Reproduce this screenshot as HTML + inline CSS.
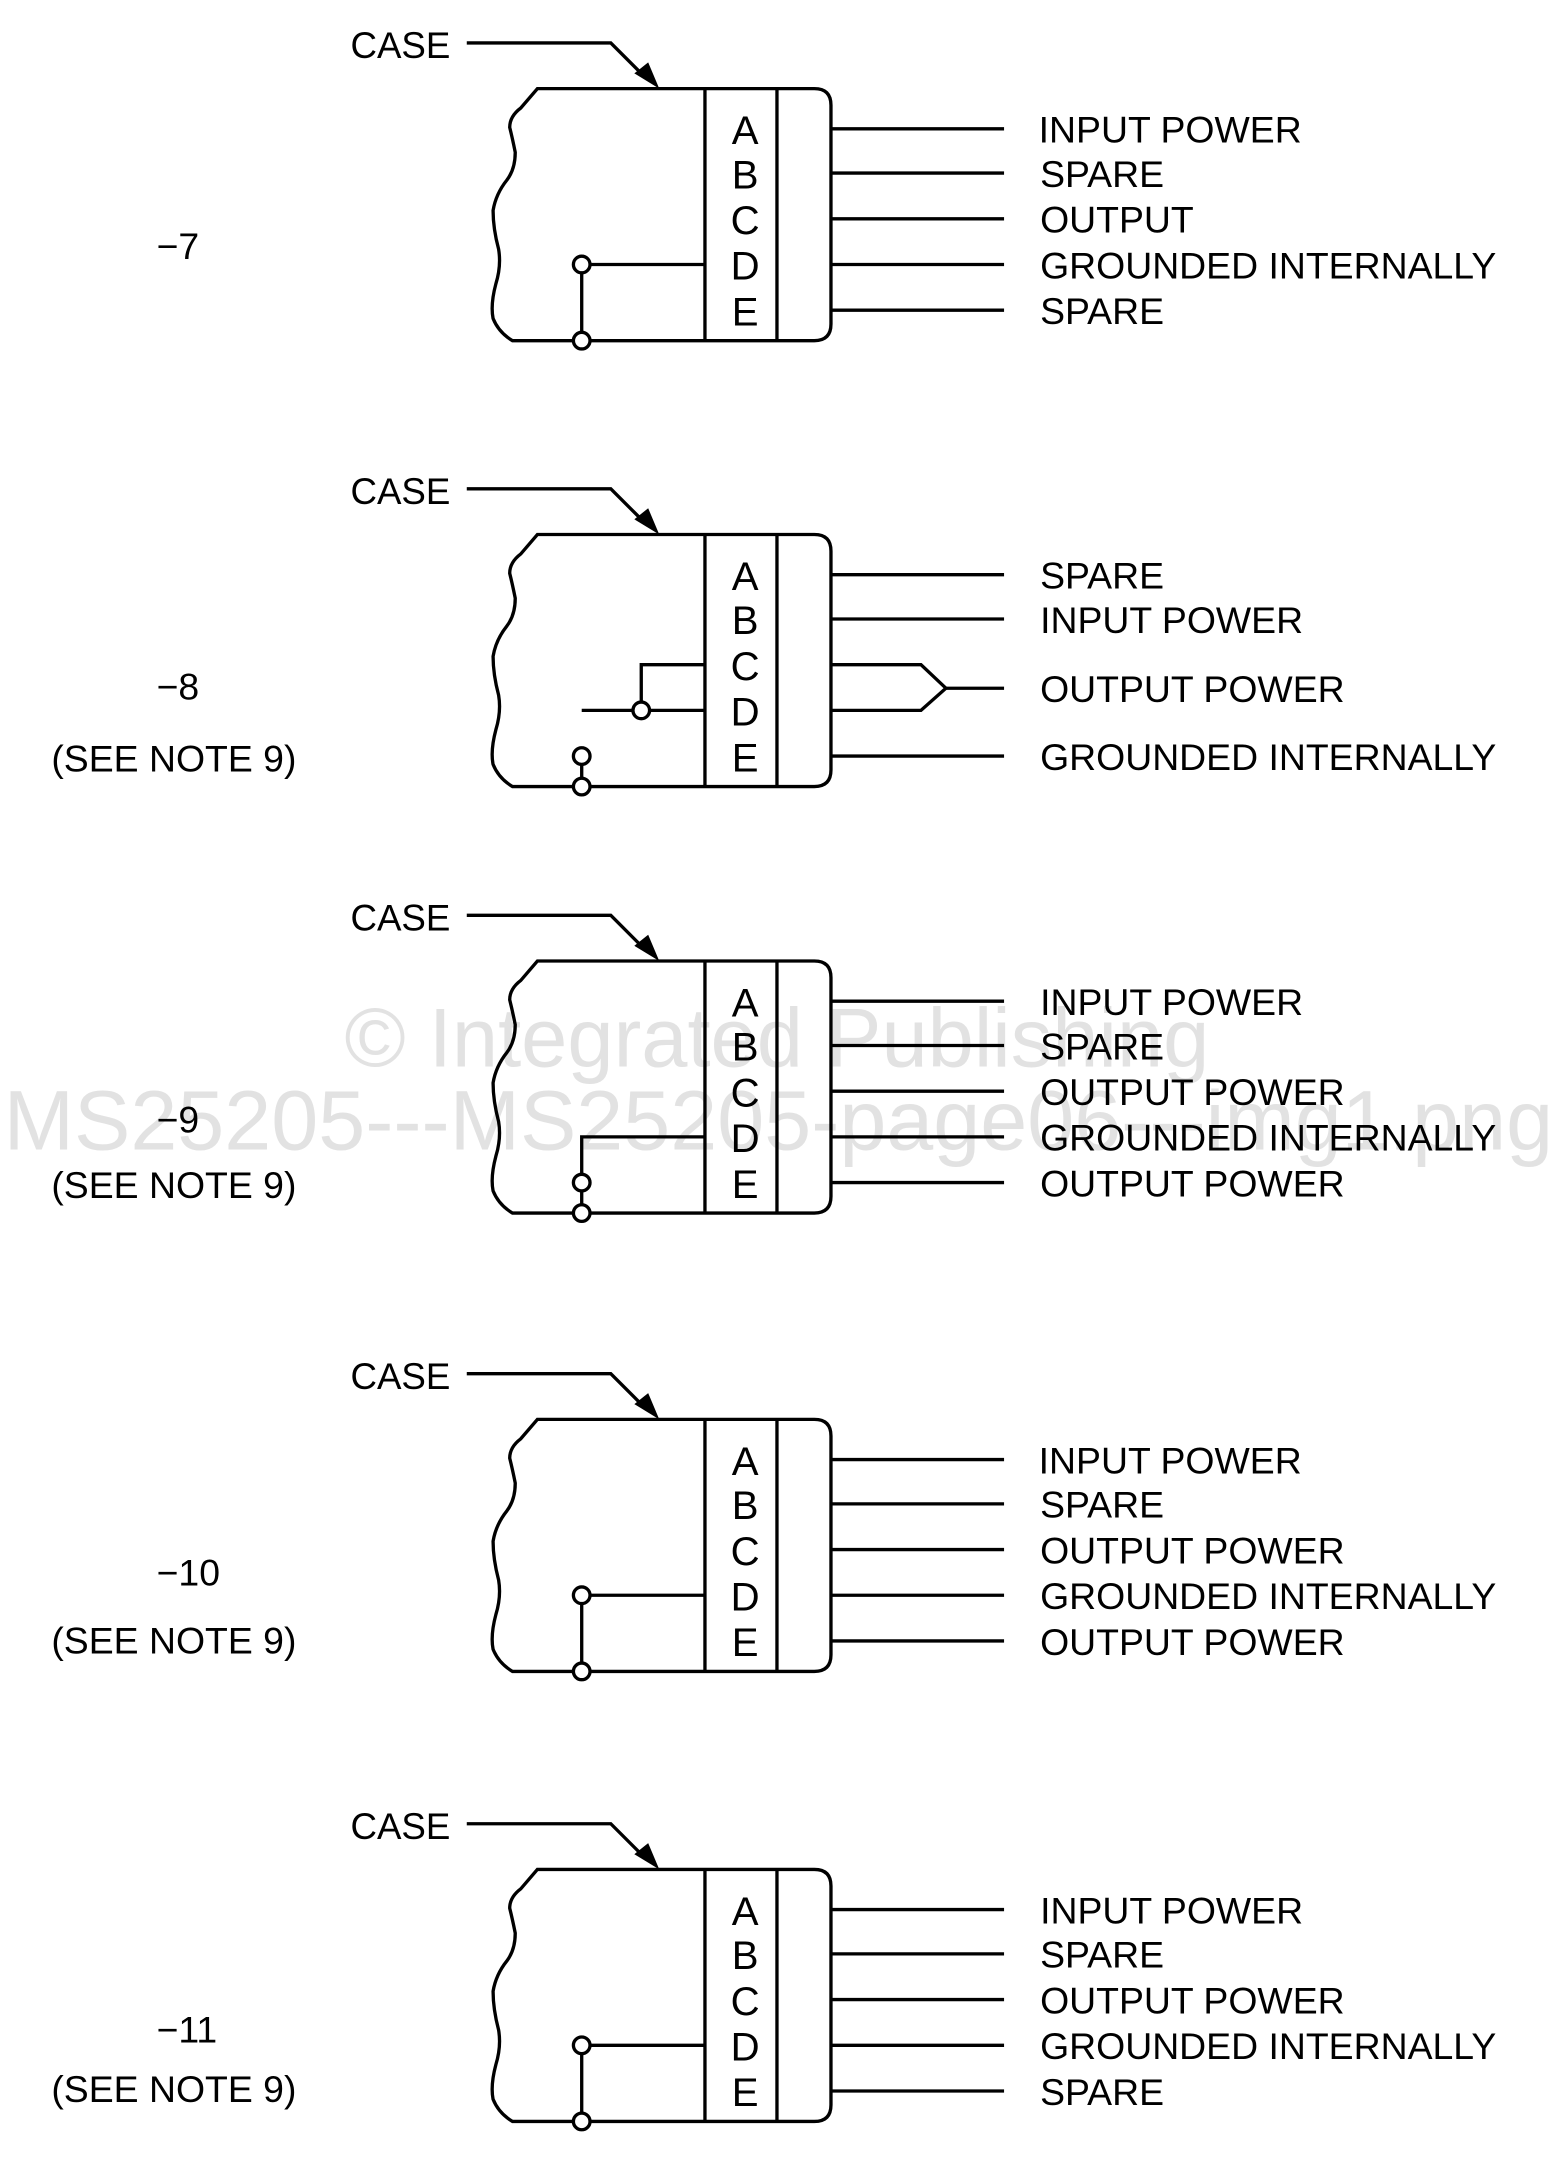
<!DOCTYPE html>
<html><head><meta charset="utf-8"><style>
html,body{margin:0;padding:0;background:#fff;}
svg{display:block;}
text{font-family:"Liberation Sans",Arial,sans-serif;fill:#000;}
</style></head><body>
<svg width="1565" height="2181" viewBox="0 0 1130 1575" xmlns="http://www.w3.org/2000/svg">
<defs>
<g id="box">
  <path d="M337,31 L441,31 L466,56" fill="none" stroke="#000" stroke-width="2.4"/>
  <polygon points="476,64 458,53 468,45" fill="#000"/>
  <path d="M600,76 L600,234 Q600,246 588,246 L370,246 Q360,240 356,230 Q354,220 358,205 Q362,192 360,180 Q356,165 356,152 Q358,140 366,130 Q372,122 372,110 Q370,100 368,92 Q368,84 376,78 L388,64 L588,64 Q600,64 600,76 Z" fill="none" stroke="#000" stroke-width="2.4"/>
  <line x1="509" y1="64" x2="509" y2="246" stroke="#000" stroke-width="2.4"/>
  <line x1="561" y1="64" x2="561" y2="246" stroke="#000" stroke-width="2.4"/>
  <g font-size="29" text-anchor="middle">
    <text x="538" y="104">A</text><text x="538" y="136">B</text><text x="538" y="169">C</text><text x="538" y="202">D</text><text x="538" y="235">E</text>
  </g>
  <text x="253" y="42" font-size="26.5">CASE</text>
</g>
</defs>

<!-- watermark -->
<text x="561" y="770" font-size="60" text-anchor="middle" style="fill:#e2e2e2">© Integrated Publishing</text>
<text x="562" y="830" font-size="61" text-anchor="middle" style="fill:#e2e2e2">MS25205---MS25205-page06---img1.png</text>

<!-- Block 1 -->
<use href="#box"/>
<g stroke="#000" stroke-width="2.4" fill="none">
  <line x1="600" y1="93" x2="725" y2="93"/><line x1="600" y1="125" x2="725" y2="125"/><line x1="600" y1="158" x2="725" y2="158"/><line x1="600" y1="191" x2="725" y2="191"/><line x1="600" y1="224" x2="725" y2="224"/>
  <line x1="426" y1="191" x2="509" y2="191"/><line x1="420" y1="197" x2="420" y2="240"/>
  <circle cx="420" cy="191" r="6" fill="#fff"/><circle cx="420" cy="246" r="6" fill="#fff"/>
</g>
<g font-size="27">
<text x="750" y="103">INPUT POWER</text><text x="751" y="135">SPARE</text><text x="751" y="168">OUTPUT</text><text x="751" y="201">GROUNDED INTERNALLY</text><text x="751" y="234">SPARE</text>
<text x="113" y="187">−7</text>
</g>

<!-- Block 2 -->
<g transform="translate(0,322)">
<use href="#box"/>
<g stroke="#000" stroke-width="2.4" fill="none">
  <line x1="600" y1="93" x2="725" y2="93"/><line x1="600" y1="125" x2="725" y2="125"/>
  <path d="M600,158 L665,158 L683,175 L665,191 L600,191"/><line x1="683" y1="175" x2="725" y2="175"/>
  <line x1="600" y1="224" x2="725" y2="224"/>
  <path d="M509,158 L463,158 L463,186"/><line x1="420" y1="191" x2="457" y2="191"/><line x1="469" y1="191" x2="509" y2="191"/>
  <circle cx="463" cy="191" r="6" fill="#fff"/>
  <line x1="420" y1="230" x2="420" y2="240"/>
  <circle cx="420" cy="224" r="6" fill="#fff"/><circle cx="420" cy="246" r="6" fill="#fff"/>
</g>
<g font-size="27">
<text x="751" y="103">SPARE</text><text x="751" y="135">INPUT POWER</text><text x="751" y="185">OUTPUT POWER</text><text x="751" y="234">GROUNDED INTERNALLY</text>
<text x="113" y="183">−8</text><text x="37" y="235">(SEE NOTE 9)</text>
</g>
</g>

<!-- Block 3 -->
<g transform="translate(0,630)">
<use href="#box"/>
<g stroke="#000" stroke-width="2.4" fill="none">
  <line x1="600" y1="93" x2="725" y2="93"/><line x1="600" y1="125" x2="725" y2="125"/><line x1="600" y1="158" x2="725" y2="158"/><line x1="600" y1="191" x2="725" y2="191"/><line x1="600" y1="224" x2="725" y2="224"/>
  <path d="M509,191 L420,191 L420,218"/><line x1="420" y1="230" x2="420" y2="240"/>
  <circle cx="420" cy="224" r="6" fill="#fff"/><circle cx="420" cy="246" r="6" fill="#fff"/>
</g>
<g font-size="27">
<text x="751" y="103">INPUT POWER</text><text x="751" y="135">SPARE</text><text x="751" y="168">OUTPUT POWER</text><text x="751" y="201">GROUNDED INTERNALLY</text><text x="751" y="234">OUTPUT POWER</text>
<text x="113" y="188">−9</text><text x="37" y="235">(SEE NOTE 9)</text>
</g>
</g>

<!-- Block 4 -->
<g transform="translate(0,961)">
<use href="#box"/>
<g stroke="#000" stroke-width="2.4" fill="none">
  <line x1="600" y1="93" x2="725" y2="93"/><line x1="600" y1="125" x2="725" y2="125"/><line x1="600" y1="158" x2="725" y2="158"/><line x1="600" y1="191" x2="725" y2="191"/><line x1="600" y1="224" x2="725" y2="224"/>
  <line x1="426" y1="191" x2="509" y2="191"/><line x1="420" y1="197" x2="420" y2="240"/>
  <circle cx="420" cy="191" r="6" fill="#fff"/><circle cx="420" cy="246" r="6" fill="#fff"/>
</g>
<g font-size="27">
<text x="750" y="103">INPUT POWER</text><text x="751" y="135">SPARE</text><text x="751" y="168">OUTPUT POWER</text><text x="751" y="201">GROUNDED INTERNALLY</text><text x="751" y="234">OUTPUT POWER</text>
<text x="113" y="184">−10</text><text x="37" y="233">(SEE NOTE 9)</text>
</g>
</g>

<!-- Block 5 -->
<g transform="translate(0,1286)">
<use href="#box"/>
<g stroke="#000" stroke-width="2.4" fill="none">
  <line x1="600" y1="93" x2="725" y2="93"/><line x1="600" y1="125" x2="725" y2="125"/><line x1="600" y1="158" x2="725" y2="158"/><line x1="600" y1="191" x2="725" y2="191"/><line x1="600" y1="224" x2="725" y2="224"/>
  <line x1="426" y1="191" x2="509" y2="191"/><line x1="420" y1="197" x2="420" y2="240"/>
  <circle cx="420" cy="191" r="6" fill="#fff"/><circle cx="420" cy="246" r="6" fill="#fff"/>
</g>
<g font-size="27">
<text x="751" y="103">INPUT POWER</text><text x="751" y="135">SPARE</text><text x="751" y="168">OUTPUT POWER</text><text x="751" y="201">GROUNDED INTERNALLY</text><text x="751" y="234">SPARE</text>
<text x="113" y="189">−11</text><text x="37" y="232">(SEE NOTE 9)</text>
</g>
</g>
</svg>
</body></html>
